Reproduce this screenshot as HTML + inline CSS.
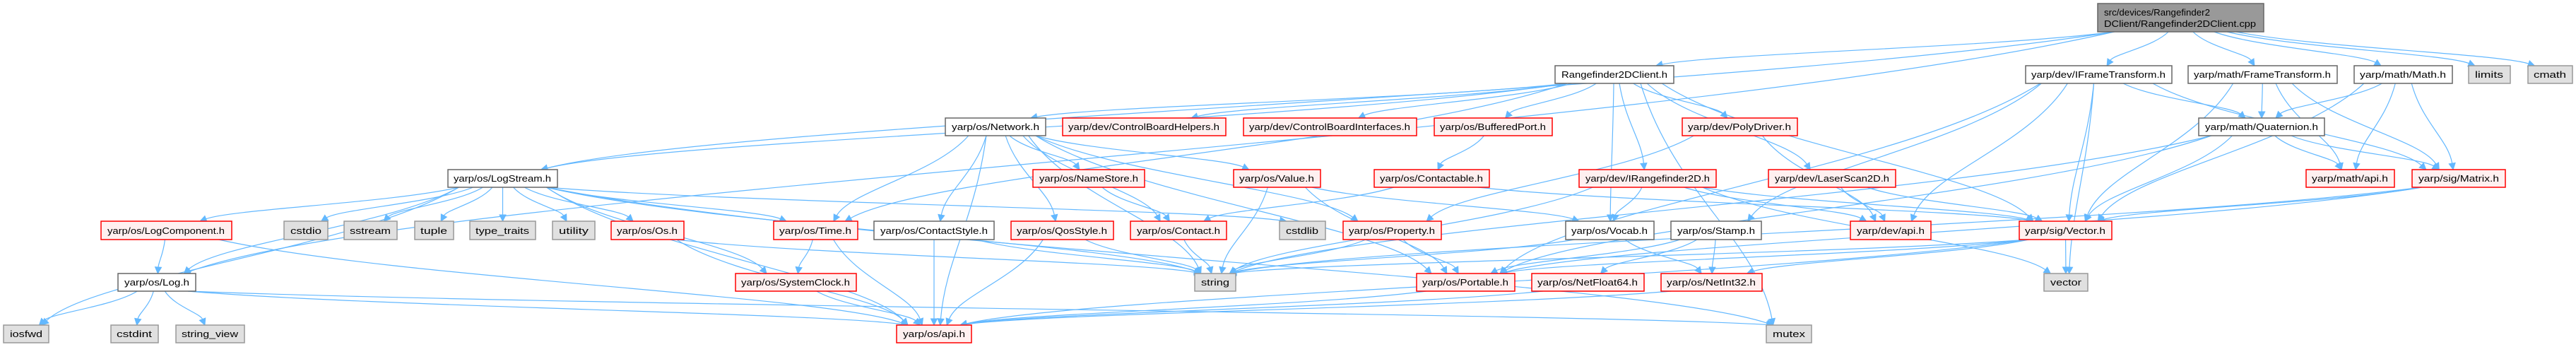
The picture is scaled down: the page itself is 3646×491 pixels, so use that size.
<!DOCTYPE html>
<html><head><meta charset="utf-8"><style>
html,body{margin:0;padding:0;background:#fff;}
svg{display:block;}
text{font-family:"Liberation Sans",sans-serif;font-size:13px;fill:#000;}
</style></head><body>
<svg id="g" width="3646" height="491" viewBox="0 0 3646 491" xmlns="http://www.w3.org/2000/svg">
<g id="edges" fill="none" stroke="#63b8ff" stroke-width="1.2"></g>
<g id="heads" fill="#63b8ff" stroke="#63b8ff"></g>
<g id="nodes" stroke-width="1.5">
<!-- root -->
<rect x="2969" y="5" width="235" height="40" fill="#999999" stroke="#666666"/>
<text x="2978" y="22" textLength="150" lengthAdjust="spacingAndGlyphs">src/devices/Rangefinder2</text>
<text x="2978" y="38" textLength="215" lengthAdjust="spacingAndGlyphs">DClient/Rangefinder2DClient.cpp</text>
<!-- row1 -->
<rect x="2201" y="93" width="168" height="25" fill="#fff" stroke="#666"/><text x="2285" y="110" text-anchor="middle" textLength="150" lengthAdjust="spacingAndGlyphs">Rangefinder2DClient.h</text>
<rect x="2867" y="93" width="207" height="25" fill="#fff" stroke="#666"/><text x="2970" y="110" text-anchor="middle" textLength="190" lengthAdjust="spacingAndGlyphs">yarp/dev/IFrameTransform.h</text>
<rect x="3097" y="93" width="211" height="25" fill="#fff" stroke="#666"/><text x="3202" y="110" text-anchor="middle" textLength="194" lengthAdjust="spacingAndGlyphs">yarp/math/FrameTransform.h</text>
<rect x="3332" y="93" width="139" height="25" fill="#fff" stroke="#666"/><text x="3401" y="110" text-anchor="middle" textLength="122" lengthAdjust="spacingAndGlyphs">yarp/math/Math.h</text>
<rect x="3494" y="93" width="59" height="25" fill="#e0e0e0" stroke="#999"/><text x="3523" y="110" text-anchor="middle" textLength="40" lengthAdjust="spacingAndGlyphs">limits</text>
<rect x="3578" y="93" width="63" height="25" fill="#e0e0e0" stroke="#999"/><text x="3609" y="110" text-anchor="middle" textLength="46" lengthAdjust="spacingAndGlyphs">cmath</text>
<!-- row2 -->
<rect x="1338" y="167" width="142" height="25" fill="#fff" stroke="#666"/><text x="1409" y="184" text-anchor="middle" textLength="124" lengthAdjust="spacingAndGlyphs">yarp/os/Network.h</text>
<rect x="1504" y="167" width="231" height="25" fill="#fff0f0" stroke="#ff0000"/><text x="1619" y="184" text-anchor="middle" textLength="214" lengthAdjust="spacingAndGlyphs">yarp/dev/ControlBoardHelpers.h</text>
<rect x="1760" y="167" width="245" height="25" fill="#fff0f0" stroke="#ff0000"/><text x="1882" y="184" text-anchor="middle" textLength="228" lengthAdjust="spacingAndGlyphs">yarp/dev/ControlBoardInterfaces.h</text>
<rect x="2030" y="167" width="167" height="25" fill="#fff0f0" stroke="#ff0000"/><text x="2113" y="184" text-anchor="middle" textLength="150" lengthAdjust="spacingAndGlyphs">yarp/os/BufferedPort.h</text>
<rect x="2381" y="167" width="163" height="25" fill="#fff0f0" stroke="#ff0000"/><text x="2462" y="184" text-anchor="middle" textLength="146" lengthAdjust="spacingAndGlyphs">yarp/dev/PolyDriver.h</text>
<rect x="3112" y="167" width="178" height="25" fill="#fff" stroke="#666"/><text x="3201" y="184" text-anchor="middle" textLength="160" lengthAdjust="spacingAndGlyphs">yarp/math/Quaternion.h</text>
<!-- row3 -->
<rect x="634" y="240" width="155" height="25" fill="#fff" stroke="#666"/><text x="711" y="257" text-anchor="middle" textLength="138" lengthAdjust="spacingAndGlyphs">yarp/os/LogStream.h</text>
<rect x="1462" y="240" width="158" height="25" fill="#fff0f0" stroke="#ff0000"/><text x="1541" y="257" text-anchor="middle" textLength="140" lengthAdjust="spacingAndGlyphs">yarp/os/NameStore.h</text>
<rect x="1746" y="240" width="123" height="25" fill="#fff0f0" stroke="#ff0000"/><text x="1807" y="257" text-anchor="middle" textLength="106" lengthAdjust="spacingAndGlyphs">yarp/os/Value.h</text>
<rect x="1945" y="240" width="163" height="25" fill="#fff0f0" stroke="#ff0000"/><text x="2026" y="257" text-anchor="middle" textLength="146" lengthAdjust="spacingAndGlyphs">yarp/os/Contactable.h</text>
<rect x="2235" y="240" width="194" height="25" fill="#fff0f0" stroke="#ff0000"/><text x="2332" y="257" text-anchor="middle" textLength="176" lengthAdjust="spacingAndGlyphs">yarp/dev/IRangefinder2D.h</text>
<rect x="2503" y="240" width="180" height="25" fill="#fff0f0" stroke="#ff0000"/><text x="2593" y="257" text-anchor="middle" textLength="162" lengthAdjust="spacingAndGlyphs">yarp/dev/LaserScan2D.h</text>
<rect x="3264" y="240" width="125" height="25" fill="#fff0f0" stroke="#ff0000"/><text x="3326" y="257" text-anchor="middle" textLength="108" lengthAdjust="spacingAndGlyphs">yarp/math/api.h</text>
<rect x="3414" y="240" width="132" height="25" fill="#fff0f0" stroke="#ff0000"/><text x="3480" y="257" text-anchor="middle" textLength="114" lengthAdjust="spacingAndGlyphs">yarp/sig/Matrix.h</text>
<!-- row4 -->
<rect x="143" y="313" width="185" height="26" fill="#fff0f0" stroke="#ff0000"/><text x="235" y="331" text-anchor="middle" textLength="166" lengthAdjust="spacingAndGlyphs">yarp/os/LogComponent.h</text>
<rect x="402" y="313" width="62" height="26" fill="#e0e0e0" stroke="#999"/><text x="433" y="331" text-anchor="middle" textLength="44" lengthAdjust="spacingAndGlyphs">cstdio</text>
<rect x="487" y="313" width="75" height="26" fill="#e0e0e0" stroke="#999"/><text x="524" y="331" text-anchor="middle" textLength="58" lengthAdjust="spacingAndGlyphs">sstream</text>
<rect x="587" y="313" width="55" height="26" fill="#e0e0e0" stroke="#999"/><text x="614" y="331" text-anchor="middle" textLength="38" lengthAdjust="spacingAndGlyphs">tuple</text>
<rect x="665" y="313" width="93" height="26" fill="#e0e0e0" stroke="#999"/><text x="711" y="331" text-anchor="middle" textLength="76" lengthAdjust="spacingAndGlyphs">type_traits</text>
<rect x="782" y="313" width="60" height="26" fill="#e0e0e0" stroke="#999"/><text x="812" y="331" text-anchor="middle" textLength="42" lengthAdjust="spacingAndGlyphs">utility</text>
<rect x="865" y="313" width="103" height="26" fill="#fff0f0" stroke="#ff0000"/><text x="916" y="331" text-anchor="middle" textLength="86" lengthAdjust="spacingAndGlyphs">yarp/os/Os.h</text>
<rect x="1095" y="313" width="119" height="26" fill="#fff0f0" stroke="#ff0000"/><text x="1154" y="331" text-anchor="middle" textLength="102" lengthAdjust="spacingAndGlyphs">yarp/os/Time.h</text>
<rect x="1237" y="313" width="170" height="26" fill="#fff" stroke="#666"/><text x="1322" y="331" text-anchor="middle" textLength="152" lengthAdjust="spacingAndGlyphs">yarp/os/ContactStyle.h</text>
<rect x="1431" y="313" width="145" height="26" fill="#fff0f0" stroke="#ff0000"/><text x="1503" y="331" text-anchor="middle" textLength="128" lengthAdjust="spacingAndGlyphs">yarp/os/QosStyle.h</text>
<rect x="1600" y="313" width="136" height="26" fill="#fff0f0" stroke="#ff0000"/><text x="1668" y="331" text-anchor="middle" textLength="118" lengthAdjust="spacingAndGlyphs">yarp/os/Contact.h</text>
<rect x="1811" y="313" width="65" height="26" fill="#e0e0e0" stroke="#999"/><text x="1843" y="331" text-anchor="middle" textLength="46" lengthAdjust="spacingAndGlyphs">cstdlib</text>
<rect x="1901" y="313" width="139" height="26" fill="#fff0f0" stroke="#ff0000"/><text x="1970" y="331" text-anchor="middle" textLength="122" lengthAdjust="spacingAndGlyphs">yarp/os/Property.h</text>
<rect x="2216" y="313" width="125" height="26" fill="#fff" stroke="#666"/><text x="2278" y="331" text-anchor="middle" textLength="108" lengthAdjust="spacingAndGlyphs">yarp/os/Vocab.h</text>
<rect x="2365" y="313" width="128" height="26" fill="#fff" stroke="#666"/><text x="2429" y="331" text-anchor="middle" textLength="110" lengthAdjust="spacingAndGlyphs">yarp/os/Stamp.h</text>
<rect x="2619" y="313" width="114" height="26" fill="#fff0f0" stroke="#ff0000"/><text x="2676" y="331" text-anchor="middle" textLength="96" lengthAdjust="spacingAndGlyphs">yarp/dev/api.h</text>
<rect x="2858" y="313" width="131" height="26" fill="#fff0f0" stroke="#ff0000"/><text x="2923" y="331" text-anchor="middle" textLength="114" lengthAdjust="spacingAndGlyphs">yarp/sig/Vector.h</text>
<!-- row5 -->
<rect x="167" y="387" width="110" height="25" fill="#fff" stroke="#666"/><text x="222" y="404" text-anchor="middle" textLength="92" lengthAdjust="spacingAndGlyphs">yarp/os/Log.h</text>
<rect x="1041" y="387" width="171" height="25" fill="#fff0f0" stroke="#ff0000"/><text x="1126" y="404" text-anchor="middle" textLength="154" lengthAdjust="spacingAndGlyphs">yarp/os/SystemClock.h</text>
<rect x="1691" y="387" width="58" height="25" fill="#e0e0e0" stroke="#999"/><text x="1720" y="404" text-anchor="middle" textLength="40" lengthAdjust="spacingAndGlyphs">string</text>
<rect x="2005" y="387" width="139" height="25" fill="#fff0f0" stroke="#ff0000"/><text x="2074" y="404" text-anchor="middle" textLength="122" lengthAdjust="spacingAndGlyphs">yarp/os/Portable.h</text>
<rect x="2168" y="387" width="159" height="25" fill="#fff0f0" stroke="#ff0000"/><text x="2247" y="404" text-anchor="middle" textLength="142" lengthAdjust="spacingAndGlyphs">yarp/os/NetFloat64.h</text>
<rect x="2351" y="387" width="143" height="25" fill="#fff0f0" stroke="#ff0000"/><text x="2422" y="404" text-anchor="middle" textLength="126" lengthAdjust="spacingAndGlyphs">yarp/os/NetInt32.h</text>
<rect x="2893" y="387" width="62" height="25" fill="#e0e0e0" stroke="#999"/><text x="2924" y="404" text-anchor="middle" textLength="44" lengthAdjust="spacingAndGlyphs">vector</text>
<!-- row6 -->
<rect x="5" y="460" width="64" height="25" fill="#e0e0e0" stroke="#999"/><text x="37" y="477" text-anchor="middle" textLength="46" lengthAdjust="spacingAndGlyphs">iosfwd</text>
<rect x="157" y="460" width="67" height="25" fill="#e0e0e0" stroke="#999"/><text x="190" y="477" text-anchor="middle" textLength="50" lengthAdjust="spacingAndGlyphs">cstdint</text>
<rect x="249" y="460" width="97" height="25" fill="#e0e0e0" stroke="#999"/><text x="297" y="477" text-anchor="middle" textLength="80" lengthAdjust="spacingAndGlyphs">string_view</text>
<rect x="1269" y="460" width="106" height="25" fill="#fff0f0" stroke="#ff0000"/><text x="1322" y="477" text-anchor="middle" textLength="88" lengthAdjust="spacingAndGlyphs">yarp/os/api.h</text>
<rect x="2500" y="460" width="64" height="25" fill="#e0e0e0" stroke="#999"/><text x="2532" y="477" text-anchor="middle" textLength="46" lengthAdjust="spacingAndGlyphs">mutex</text>
</g>
</svg>
<script>
(function(){
var N={
root:[2969,3204,5,45],
RC:[2201,2369,93,118],IFT:[2867,3074,93,118],FT:[3097,3308,93,118],MATH:[3332,3471,93,118],limits:[3494,3553,93,118],cmath:[3578,3641,93,118],
NET:[1338,1480,167,192],CBH:[1504,1735,167,192],CBI:[1760,2005,167,192],BP:[2030,2197,167,192],PD:[2381,2544,167,192],QUAT:[3112,3290,167,192],
LS:[634,789,240,265],NS:[1462,1620,240,265],VAL:[1746,1869,240,265],CTB:[1945,2108,240,265],IRF:[2235,2429,240,265],LSC:[2503,2683,240,265],MAPI:[3264,3389,240,265],MAT:[3414,3546,240,265],
LC:[143,328,313,339],cstdio:[402,464,313,339],sstream:[487,562,313,339],tuple:[587,642,313,339],tt:[665,758,313,339],utility:[782,842,313,339],OS:[865,968,313,339],TIME:[1095,1214,313,339],CS:[1237,1407,313,339],QOS:[1431,1576,313,339],CON:[1600,1736,313,339],cstdlib:[1811,1876,313,339],PROP:[1901,2040,313,339],VOC:[2216,2341,313,339],STAMP:[2365,2493,313,339],DAPI:[2619,2733,313,339],VEC:[2858,2989,313,339],
LOG:[167,277,387,412],SC:[1041,1212,387,412],string:[1691,1749,387,412],PORT:[2005,2144,387,412],NF:[2168,2327,387,412],NI:[2351,2494,387,412],vector:[2893,2955,387,412],
iosfwd:[5,69,460,485],cstdint:[157,224,460,485],sv:[249,346,460,485],API:[1269,1375,460,485],mutex:[2500,2564,460,485]};
var E=[
"root RC","root IFT","root FT","root MATH","root limits","root cmath","root LOG","root LS",
"RC NET","RC CBH","RC CBI","RC BP","RC PD","RC IRF","RC LSC","RC VOC","RC mutex","RC VEC","RC TIME","RC LS",
"IFT DAPI","IFT VEC","IFT vector","IFT QUAT","IFT MAT","IFT STAMP","IFT PORT",
"FT QUAT","FT MAT","FT MAPI","FT VEC",
"MATH QUAT","MATH MAPI","MATH MAT","MATH VEC",
"QUAT MAPI","QUAT MAT","QUAT VEC","QUAT PORT","QUAT string",
"MAT VEC","MAT PORT","MAT string",
"VEC vector","VEC PORT","VEC string","VEC API","VEC NI",
"NET TIME","NET CS","NET QOS","NET NS","NET CON","NET VAL","NET PROP","NET PORT","NET string","NET API",
"NS CON","VAL string","VAL PORT","VAL VOC","CTB CON","CTB VEC","BP CTB",
"IRF VOC","IRF DAPI","IRF VEC","IRF string","IRF vector","LSC DAPI","LSC VEC","PD DAPI","PD PROP",
"CS API","CS string","QOS API","QOS string","CON string","PROP string","PROP PORT","PORT API",
"VOC string","VOC NI","STAMP PORT","STAMP NF","STAMP NI","NF API","NI API",
"LS LC","LS LOG","LS iosfwd","LS cstdio","LS sstream","LS tuple","LS tt","LS utility","LS OS","LS TIME","LS SC","LS API","LS string","LS cstdlib","LS mutex",
"LC LOG","LC API","LOG iosfwd","LOG cstdint","LOG sv","LOG API","LOG mutex",
"OS API","OS string","TIME SC","TIME API","SC API"];
var ns="http://www.w3.org/2000/svg",eg=document.getElementById("edges"),hg=document.getElementById("heads");
E.forEach(function(s){
 var p=s.split(" "),a=N[p[0]],b=N[p[1]];
 var acx=(a[0]+a[1])/2,bcx=(b[0]+b[1])/2;
 var sx=acx+Math.max(-(a[1]-a[0])*0.4,Math.min((a[1]-a[0])*0.4,(bcx-acx)*0.15));
 var sy=a[3];
 var tx=bcx+Math.max(-(b[1]-b[0])*0.35,Math.min((b[1]-b[0])*0.35,(acx-bcx)*0.1));
 var ty=b[2];
 var dx=tx-sx,dy=ty-sy;
 var c1x=sx+dx*0.25,c1y=sy+dy*0.45,c2x=tx-dx*0.12,c2y=ty-dy*0.35;
 var path=document.createElementNS(ns,"path");
 // shorten end for arrow
 var vx=tx-c2x,vy=ty-c2y,L=Math.sqrt(vx*vx+vy*vy)||1;vx/=L;vy/=L;
 var ex=tx-vx*9,ey=ty-vy*9;
 path.setAttribute("d","M"+sx+","+sy+" C"+c1x+","+c1y+" "+c2x+","+c2y+" "+ex+","+ey);
 eg.appendChild(path);
 var px=-vy,py=vx;
 var poly=document.createElementNS(ns,"polygon");
 poly.setAttribute("points",tx+","+ty+" "+(ex+px*4.5)+","+(ey+py*4.5)+" "+(ex-px*4.5)+","+(ey-py*4.5));
 hg.appendChild(poly);
});
})();
</script>
</body></html>
